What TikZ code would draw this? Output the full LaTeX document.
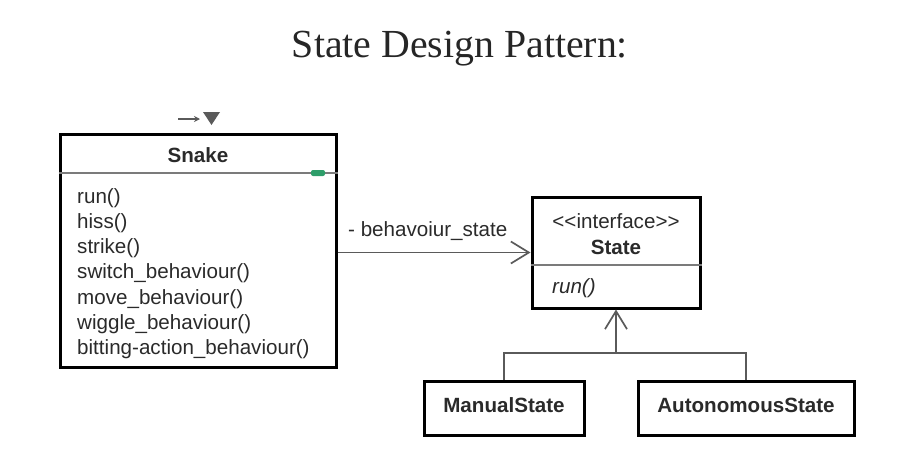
\documentclass[tikz,border=0pt]{standalone}
\usepackage{fontspec}
\setmainfont{Liberation Serif}
\newfontfamily\arialf{Liberation Sans}
\usetikzlibrary{arrows.meta,calc}
\definecolor{txt}{HTML}{2A2A2A}
\definecolor{conn}{HTML}{5A5A5A}
\definecolor{mark}{HTML}{2E9E6A}
\tikzset{
  umlbox/.style={draw=black,line width=3pt,rectangle,inner sep=0pt,fill=none},
  umltext/.style={font=\arialf\fontsize{20.6}{24}\selectfont,text=txt,inner sep=0pt,anchor=base},
  umlbold/.style={umltext,font=\arialf\bfseries\fontsize{20.6}{24}\selectfont},
  methodtext/.style={umltext,anchor=base west},
  divider/.style={draw=conn!80,line width=2pt},
  connline/.style={draw=conn,line width=1.7pt},
  openhead/.style={-{Straight Barb[length=18pt,width=22pt,line width=1.7pt]}},
}
\begin{document}
\begin{tikzpicture}[x=1pt,y=-1pt]
\useasboundingbox (0,0) rectangle (900,474);
% title
\node[font=\fontsize{39.8}{44}\selectfont,text=black!85,anchor=base,inner sep=0pt] (title) at (460,57) {State Design Pattern:};
% small icons above Snake
\coordinate (ia) at (178,119);
\coordinate (ib) at (200,119);
\draw[conn,line width=1.8pt,-{Stealth[length=6pt,width=6pt]}] (ia) -- (ib);
\fill[conn] (203,112) -- (220,112) -- (211.5,125) -- cycle;
% Snake box
\node[umlbox,minimum width=276pt,minimum height=233pt] (snake) at (198,250.5) {};
\node[umlbold] (snaketitle) at (198,162) {Snake};
\coordinate (sdiv) at (0,173);
\draw[divider] (snake.west |- sdiv) -- (snake.east |- sdiv);
\node[rectangle,fill=mark,rounded corners=2pt,minimum width=14pt,minimum height=6pt,inner sep=0pt] (greenmark) at (318,173) {};
\node[methodtext] (m1) at (77,203) {run()};
\node[methodtext] (m2) at (77,228.3) {hiss()};
\node[methodtext] (m3) at (77,253.6) {strike()};
\node[methodtext] (m4) at (77,278.9) {switch\_behaviour()};
\node[methodtext] (m5) at (77,304.2) {move\_behaviour()};
\node[methodtext] (m6) at (77,329.5) {wiggle\_behaviour()};
\node[methodtext] (m7) at (77,354.8) {bitting-action\_behaviour()};
% State box
\node[umlbox,minimum width=168pt,minimum height=111pt] (state) at (616,252.5) {};
\node[umltext] (stereo) at (616,228.5) {<{}<interface>{}>};
\node[umlbold] (statetitle) at (616,254.5) {State};
\coordinate (tdiv) at (0,265);
\draw[divider] (state.west |- tdiv) -- (state.east |- tdiv);
\node[methodtext,font=\arialf\itshape\fontsize{20.6}{24}\selectfont] (srun) at (552,293) {run()};
% association
\draw[connline,openhead] (snake.east |- state.west) -- (state.west);
\node[methodtext] (assoc) at (348,236) {- behavoiur\_state};
% subclasses
\node[umlbox,minimum width=160pt,minimum height=54pt] (manual) at (504,408) {};
\node[umlbold] (manualtxt) at (504,412.5) {ManualState};
\node[umlbox,minimum width=216pt,minimum height=54pt] (auto) at (746,408) {};
\node[umlbold] (autotxt) at (746,412.5) {AutonomousState};
\coordinate (bar) at (617,353);
\draw[connline] (manual.north) -- (manual.north |- bar) -- (auto.north |- bar) -- (auto.north);
\draw[connline,openhead] (state.south |- bar) -- (state.south);
\end{tikzpicture}
\end{document}
